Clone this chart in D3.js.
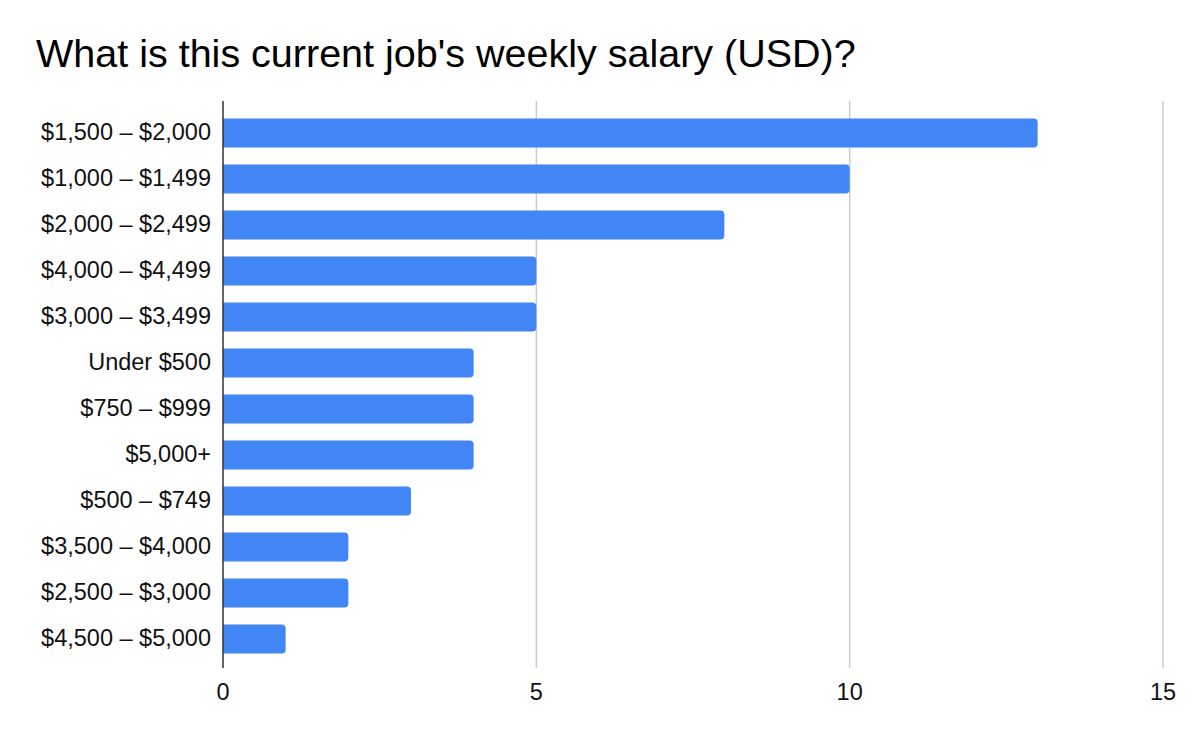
<!DOCTYPE html>
<html>
<head>
<meta charset="utf-8">
<script src="https://cdn.jsdelivr.net/npm/d3@7"></script>
<style>
  body { margin: 0; background: #fff; }
  text { font-family: "Liberation Sans", Arial, sans-serif; }
</style>
</head>
<body>
<div id="chart"></div>
<script>
// chart data
let categories = ["$1,500 – $2,000", "$1,000 – $1,499", "$2,000 – $2,499", "$4,000 – $4,499",
    "$3,000 – $3,499", "Under $500", "$750 – $999", "$5,000+", "$500 – $749",
    "$3,500 – $4,000", "$2,500 – $3,000", "$4,500 – $5,000"];
let counts = [13, 10, 8, 5, 5, 4, 4, 4, 3, 2, 2, 1];
let xTicks = [0, 5, 10, 15];
let title = "What is this current job's weekly salary (USD)?";

let width = 1200, height = 742;
let barColor = "#4285f4";

let svg = d3.select("#chart")
    .append("svg")
    .attr("width", width)
    .attr("height", height);

// title
svg.append("text")
    .attr("x", 36)
    .attr("y", 67)
    .style("font-size", "39.5px")
    .style("fill", "#000")
    .text(title);

let x = d3.scaleLinear().domain([0, 15]).range([223, 1163]);
let y = d3.scaleBand().domain(categories).range([110, 662]).paddingInner(0.37).paddingOuter(0.185);

// gridlines
svg.append("g")
    .selectAll("line")
    .data(xTicks.filter(d => d > 0))
    .enter().append("line")
    .attr("x1", d => x(d)).attr("x2", d => x(d))
    .attr("y1", 101).attr("y2", 668)
    .style("stroke", "#cccccc")
    .style("stroke-width", 1.5);

// bars (rounded on the right end only)
let r = 4;
svg.append("g")
    .selectAll("path")
    .data(categories)
    .enter().append("path")
    .attr("d", function (d, i) {
        let x0 = x(0), x1 = x(counts[i]), y0 = y(d), h = y.bandwidth();
        return "M" + x0 + "," + y0 +
            "H" + (x1 - r) +
            "Q" + x1 + "," + y0 + " " + x1 + "," + (y0 + r) +
            "V" + (y0 + h - r) +
            "Q" + x1 + "," + (y0 + h) + " " + (x1 - r) + "," + (y0 + h) +
            "H" + x0 + "Z";
    })
    .style("fill", barColor);

// y axis line
svg.append("line")
    .attr("x1", x(0)).attr("x2", x(0))
    .attr("y1", 101).attr("y2", 668)
    .style("stroke", "#333")
    .style("stroke-width", 1.5);

// category labels
svg.append("g")
    .selectAll("text")
    .data(categories)
    .enter().append("text")
    .attr("x", 211)
    .attr("y", d => y(d) + y.bandwidth() / 2)
    .attr("dy", "0.28em")
    .style("text-anchor", "end")
    .style("font-size", "23.5px")
    .style("fill", "#111")
    .text(d => d);

// x tick labels
svg.append("g")
    .selectAll("text")
    .data(xTicks)
    .enter().append("text")
    .attr("x", d => x(d))
    .attr("y", 700)
    .style("text-anchor", "middle")
    .style("font-size", "23.5px")
    .style("fill", "#111")
    .text(d => d);
</script>
</body>
</html>
